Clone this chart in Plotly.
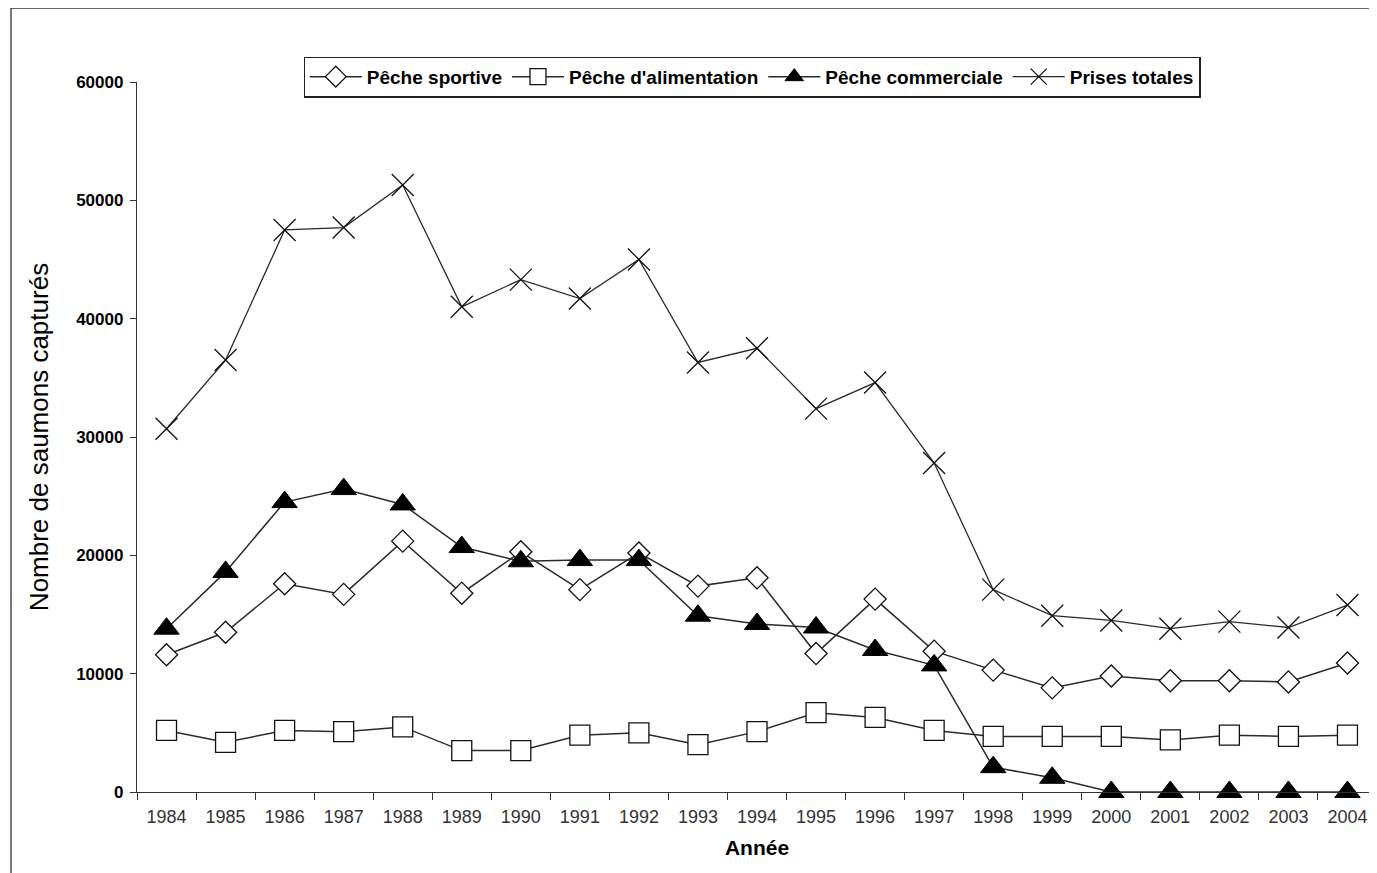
import plotly.graph_objects as go

years = [str(y) for y in range(1984, 2005)]

peche_sportive = [11600, 13500, 17600, 16700, 21200, 16800, 20300, 17100, 20200, 17400,
                  18100, 11700, 16300, 11900, 10300, 8800, 9800, 9400, 9400, 9300, 10900]
peche_alimentation = [5200, 4200, 5200, 5100, 5500, 3500, 3500, 4800, 5000, 4000,
                      5100, 6700, 6300, 5200, 4700, 4700, 4700, 4400, 4800, 4700, 4800]
peche_commerciale = [13800, 18600, 24500, 25600, 24300, 20700, 19500, 19600, 19600, 14900,
                     14200, 13900, 12000, 10700, 2100, 1200, 0, 0, 0, 0, 0]
prises_totales = [30700, 36500, 47500, 47700, 51300, 41000, 43300, 41700, 45000, 36300,
                  37500, 32400, 34600, 27800, 17100, 14900, 14500, 13800, 14400, 13900, 15800]

series_names = ["Pêche sportive", "Pêche d'alimentation", "Pêche commerciale", "Prises totales"]
y_ticks = [0, 10000, 20000, 30000, 40000, 50000, 60000]

FONT = "Liberation Sans, Arial, sans-serif"
LINE = "#2a2a2a"

fig = go.Figure()
fig.add_trace(go.Scatter(
    x=years, y=peche_sportive, name=series_names[0], mode="lines+markers",
    line=dict(color=LINE, width=1.5),
    marker=dict(symbol="diamond", size=17, color="white", line=dict(color="#111", width=1.3)),
    cliponaxis=False))
fig.add_trace(go.Scatter(
    x=years, y=peche_alimentation, name=series_names[1], mode="lines+markers",
    line=dict(color=LINE, width=1.5),
    marker=dict(symbol="square", size=20, color="white", line=dict(color="#111", width=1.3)),
    cliponaxis=False))
fig.add_trace(go.Scatter(
    x=years, y=peche_commerciale, name=series_names[2], mode="lines+markers",
    line=dict(color=LINE, width=1.5),
    marker=dict(symbol="triangle-up", size=22, color="black", line=dict(color="black", width=1)),
    cliponaxis=False))
fig.add_trace(go.Scatter(
    x=years, y=prises_totales, name=series_names[3], mode="lines+markers",
    line=dict(color=LINE, width=1.3),
    marker=dict(symbol="x-thin-open", size=22, color="#111", line=dict(color="#111", width=1.3)),
    cliponaxis=False))

# page has an 8px body margin; compensate so the plot lands where the reference has it
OFF = 8
W, H = 1377 - OFF, 873 - OFF
L, R, T, B = 137 - OFF, 0, 82 - OFF, 81
pw, ph = W - L - R, H - T - B

def px2x(p):
    return (p - OFF - L) / pw

def py2y(p):
    return (OFF + H - B - p) / ph

fig.update_layout(
    width=W, height=H,
    margin=dict(l=L, r=R, t=T, b=B, pad=0),
    paper_bgcolor="white", plot_bgcolor="white",
    font=dict(family=FONT, color="black"),
    showlegend=True,
    legend=dict(
        orientation="h", x=px2x(752), y=py2y(77), xanchor="center", yanchor="middle",
        bordercolor="#222", borderwidth=1.3, bgcolor="white",
        font=dict(family=FONT, size=19, color="black", weight="bold"),
        itemwidth=52, traceorder="normal",
    ),
    xaxis=dict(
        type="category", range=[-0.5, 20.5],
        showline=True, linecolor="#333", linewidth=1.3,
        ticks="outside", tickson="boundaries", ticklen=7, tickcolor="#333", tickwidth=1.3,
        showgrid=False, zeroline=False, ticklabelstandoff=8,
        tickfont=dict(family=FONT, size=18, color="#333"),
        title=dict(text="Année", font=dict(family=FONT, size=21, color="black", weight="bold"), standoff=14),
    ),
    yaxis=dict(
        range=[0, 60000], tickvals=y_ticks, ticktext=[str(v) for v in y_ticks],
        showline=True, linecolor="#333", linewidth=1.3,
        ticks="outside", ticklen=6, tickcolor="#333", tickwidth=1.3,
        showgrid=False, zeroline=False, ticklabelstandoff=3,
        tickfont=dict(family=FONT, size=17, color="black", weight="bold"),
        title=dict(text="Nombre de saumons capturés", font=dict(family=FONT, size=26, color="black"), standoff=20),
    ),
    shapes=[dict(type="rect", xref="paper", yref="paper",
                 x0=px2x(11), x1=px2x(1400), y0=py2y(8), y1=py2y(900),
                 line=dict(color="#333", width=1.3), fillcolor="rgba(0,0,0,0)", layer="below")],
)

fig.write_html("out.html")
